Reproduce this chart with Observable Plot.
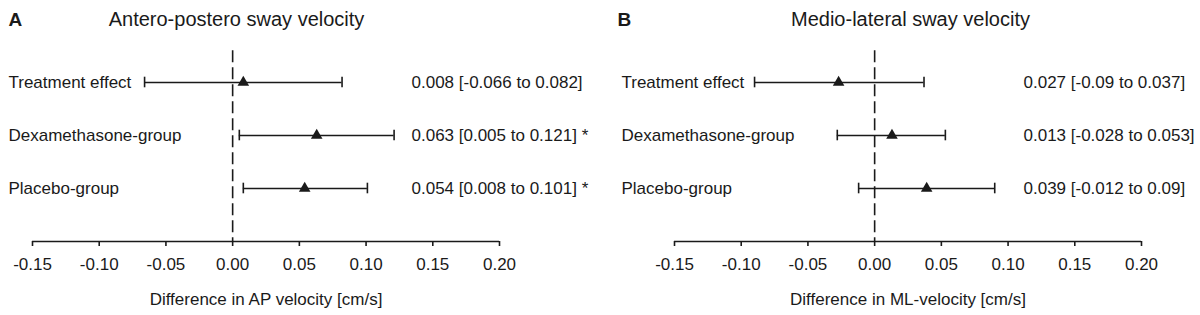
<!DOCTYPE html>
<html>
<head>
<meta charset="utf-8">
<script src="https://cdn.jsdelivr.net/npm/d3@7"></script>
<script src="https://cdn.jsdelivr.net/npm/@observablehq/plot@0.6"></script>
<style>
  html, body { margin: 0; padding: 0; background: #fff; }
  #wrap { display: flex; width: 1200px; height: 315px; }
  #wrap svg { display: block; }
</style>
</head>
<body>
<div id="wrap"></div>
<script>
// ---- data ----
const rowLabels = ["Treatment effect", "Dexamethasone-group", "Placebo-group"];
const rowPos = [3, 2, 1];

const apEst = [0.008, 0.063, 0.054];
const apLo  = [-0.066, 0.005, 0.008];
const apHi  = [0.082, 0.121, 0.101];
const apText = ["0.008 [-0.066 to 0.082]", "0.063 [0.005 to 0.121] *", "0.054 [0.008 to 0.101] *"];

const mlEst = [-0.027, 0.013, 0.039];
const mlLo  = [-0.09, -0.028, -0.012];
const mlHi  = [0.037, 0.053, 0.09];
const mlText = ["0.027 [-0.09 to 0.037]", "0.013 [-0.028 to 0.053]", "0.039 [-0.012 to 0.09]"];

const xTicks = [-0.15, -0.10, -0.05, 0.00, 0.05, 0.10, 0.15, 0.20];

const panels = [
  {letter: "A", title: "Antero-postero sway velocity", xlabel: "Difference in AP velocity [cm/s]",
   est: apEst, lo: apLo, hi: apHi, text: apText,
   xRange: [32, 499], letterDx: 8, titleDx: 236, labelDx: 8, valueDx: 411},
  {letter: "B", title: "Medio-lateral sway velocity", xlabel: "Difference in ML-velocity [cm/s]",
   est: mlEst, lo: mlLo, hi: mlHi, text: mlText,
   xRange: [74, 541], letterDx: 17, titleDx: 310, labelDx: 21, valueDx: 423}
];

const ink = "#1a1a1a";
const font = "'Liberation Sans', Arial, Helvetica, sans-serif";
const sw = 1.6;

function makePanel(p) {
  const rows = rowLabels.map((label, i) => ({
    label, y: rowPos[i], est: p.est[i], lo: p.lo[i], hi: p.hi[i], text: p.text[i]
  }));
  const xMid = (xTicks[0] + xTicks[xTicks.length - 1]) / 2;
  return Plot.plot({
    width: 600,
    height: 315,
    marginTop: 0,
    marginRight: 0,
    marginLeft: 0,
    marginBottom: 74,
    style: {fontFamily: font, color: ink, background: "#fff", overflow: "visible"},
    x: {domain: [xTicks[0], xTicks[xTicks.length - 1]], range: p.xRange},
    y: {domain: [0, 3], range: [241, 82], axis: null},
    marks: [
      // reference dashed line at zero
      Plot.ruleX([0], {y1: 3.6, y2: 0, stroke: ink, strokeWidth: sw, strokeDasharray: "12,5"}),
      // axis baseline
      Plot.ruleY([0], {x1: xTicks[0], x2: xTicks[xTicks.length - 1], stroke: ink, strokeWidth: sw}),
      Plot.axisX({
        ticks: xTicks, tickFormat: d => d.toFixed(2), tickSize: 5, tickPadding: 11,
        fontSize: 17, label: null, stroke: ink, strokeWidth: sw, strokeOpacity: 1, fill: ink
      }),
      // error bars
      Plot.ruleY(rows, {y: "y", x1: "lo", x2: "hi", stroke: ink, strokeWidth: sw}),
      Plot.ruleX(rows, {x: "lo", y1: d => d.y - 0.1, y2: d => d.y + 0.1, stroke: ink, strokeWidth: sw}),
      Plot.ruleX(rows, {x: "hi", y1: d => d.y - 0.1, y2: d => d.y + 0.1, stroke: ink, strokeWidth: sw}),
      // point estimates
      Plot.dot(rows, {x: "est", y: "y", symbol: "triangle", r: 4.3, fill: ink, stroke: "none"}),
      // row labels
      Plot.text(rows, {y: "y", text: "label", frameAnchor: "left", dx: p.labelDx, textAnchor: "start", fontSize: 17, fill: ink}),
      // value text
      Plot.text(rows, {y: "y", text: "text", frameAnchor: "left", dx: p.valueDx, textAnchor: "start", fontSize: 17, fill: ink}),
      // panel letter
      Plot.text([p.letter], {frameAnchor: "top-left", dx: p.letterDx, dy: 19, textAnchor: "start", lineAnchor: "middle", fontSize: 19, fontWeight: "bold", fill: ink}),
      // panel title
      Plot.text([p.title], {frameAnchor: "top-left", dx: p.titleDx, dy: 18.6, textAnchor: "middle", lineAnchor: "middle", fontSize: 20, fill: ink}),
      // x-axis title
      Plot.text([p.xlabel], {x: xMid, frameAnchor: "bottom", dy: 57.6, lineAnchor: "middle", fontSize: 17, fill: ink})
    ]
  });
}

const wrap = document.getElementById("wrap");
panels.forEach(p => wrap.appendChild(makePanel(p)));
</script>
</body>
</html>
